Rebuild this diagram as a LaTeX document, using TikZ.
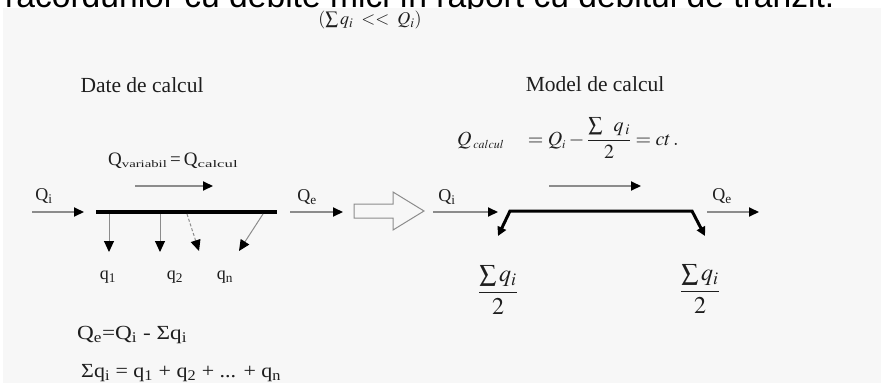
\documentclass[tikz,border=0pt]{standalone}
\usepackage{amsmath}
\usepackage{graphicx}
\usepackage{mathptmx}
\usepackage{fontspec}
\setmainfont{Liberation Serif}
\newfontfamily\topfont{Liberation Sans}
\usetikzlibrary{arrows.meta}
\definecolor{bggrey}{RGB}{247,247,247}
\definecolor{shaft}{RGB}{140,140,140}
\definecolor{ink}{RGB}{30,30,30}
\newcommand{\widesub}[2]{\raisebox{-2.5pt}{\resizebox{#1}{7pt}{#2}}}
\tikzset{
  lbl/.style={inner sep=0pt, text=ink, font=\fontsize{18}{18}\selectfont},
  flow/.style={draw=shaft, line width=2pt, -{Triangle[color=black,length=10pt,width=9pt]}},
  branch/.style={draw=shaft, line width=1pt, -{Triangle[color=black,length=11pt,width=10pt]}},
  pipe/.style={draw=black, line width=3.5pt},
  modelpipe/.style={draw=black, line width=3pt, {Triangle[length=9pt,width=9pt]}-{Triangle[length=9pt,width=9pt]}},
}
\begin{document}
\begin{tikzpicture}[x=1pt,y=-1pt]
\useasboundingbox (0,0) rectangle (881,383);
\fill[white] (0,0) rectangle (881,383);
\fill[bggrey] (3,8) rectangle (881,383);
\begin{scope}
\clip (0,0) rectangle (881,8);
\node[anchor=base west, inner sep=0pt, font=\topfont\fontsize{33.6}{34}\selectfont] (toptext) at (5,7) {\raisebox{0pt}[\height][0pt]{racordurilor cu debite mici în raport cu debitul de tranzit.}};
\end{scope}
% condition
\node[lbl, font=\fontsize{18}{18}\selectfont] (cond) at (370,20) {$(\sum q_i \;<<\; Q_i)$};
% titles
\node[lbl, font=\fontsize{21.5}{22}\selectfont] (date) at (142,85) {Date de calcul};
\node[lbl, font=\fontsize{21.5}{22}\selectfont] (model) at (595,84) {Model de calcul};
% left: data
\node[lbl, anchor=base west, font=\fontsize{19}{19}\selectfont] (qvar) at (108,165) {Q\widesub{45pt}{variabil}\,=\,Q\widesub{40pt}{calcul}};
\coordinate (ta1s) at (135,186); \coordinate (ta1e) at (213,186);
\draw[flow] (ta1s) -- (ta1e);
\node[lbl] (qiL) at (44,196) {Q\textsubscript{i}};
\coordinate (qiLs) at (32,212); \coordinate (qiLe) at (84,212);
\draw[flow] (qiLs) -- (qiLe);
\coordinate (pipeL) at (96,212); \coordinate (pipeR) at (277,212);
\draw[pipe] (pipeL) -- (pipeR);
\node[lbl] (qeL) at (307,197) {Q\textsubscript{e}};
\coordinate (qeLs) at (290,212); \coordinate (qeLe) at (343,212);
\draw[flow] (qeLs) -- (qeLe);
% branches
\coordinate (b1s) at (109,214); \coordinate (b1e) at (109,252);
\coordinate (b2s) at (160,214); \coordinate (b2e) at (160,252);
\coordinate (b3s) at (187,214); \coordinate (b3e) at (199,251);
\coordinate (b4s) at (263,214); \coordinate (b4e) at (239,251);
\draw[branch] (b1s) -- (b1e);
\draw[branch] (b2s) -- (b2e);
\draw[branch, dashed, dash pattern=on 3pt off 2pt] (b3s) -- (b3e);
\draw[branch] (b4s) -- (b4e);
\node[lbl] (q1) at (108,277) {q\textsubscript{1}};
\node[lbl] (q2) at (175,277) {q\textsubscript{2}};
\node[lbl] (qn) at (225,277) {q\textsubscript{n}};
\node[lbl, anchor=west, font=\fontsize{20}{20}\selectfont] (eq1) at (77,335) {\scalebox{1.16}[1]{Q\textsubscript{e}=Q\textsubscript{i} - Σq\textsubscript{i}}};
\node[lbl, anchor=west, font=\fontsize{20}{20}\selectfont] (eq2) at (81,373) {\scalebox{1.1}[1]{Σq\textsubscript{i} = q\textsubscript{1} + q\textsubscript{2} + ... + q\textsubscript{n}}};
% hollow arrow
\draw[shaft, line width=1pt, line join=miter, fill=bggrey] (354,204) -- (393,204) -- (393,192) -- (424,211) -- (393,230) -- (393,218) -- (354,218) -- cycle;
% right: model
\node[lbl, anchor=base west, font=\fontsize{20}{20}\selectfont] (form) at (457,145) {$Q_{\,\scriptscriptstyle calcul}\hspace{19pt}= Q_{\scriptscriptstyle i} - \dfrac{\sum\;\; q_{\,i}}{2} = ct\,.$};
\coordinate (ta2s) at (549,186); \coordinate (ta2e) at (641,186);
\draw[flow] (ta2s) -- (ta2e);
\node[lbl] (qiR) at (447,197) {Q\textsubscript{i}};
\coordinate (qiRs) at (433,212); \coordinate (qiRe) at (498,212);
\draw[flow] (qiRs) -- (qiRe);
\coordinate (mA) at (498,236); \coordinate (mB) at (510,211);
\coordinate (mC) at (692,211); \coordinate (mD) at (705,236);
\draw[modelpipe] (mA) -- (mB) -- (mC) -- (mD);
\node[lbl] (qeR) at (722,196) {Q\textsubscript{e}};
\coordinate (qeRs) at (707,212); \coordinate (qeRe) at (759,212);
\draw[flow] (qeRs) -- (qeRe);
\node[lbl, font=\fontsize{24}{24}\selectfont] (fracL) at (498,290) {$\dfrac{\sum q_i}{2}$};
\node[lbl, font=\fontsize{24}{24}\selectfont] (fracR) at (700,289) {\boldmath$\dfrac{\sum q_i}{2}$};
\end{tikzpicture}
\end{document}
